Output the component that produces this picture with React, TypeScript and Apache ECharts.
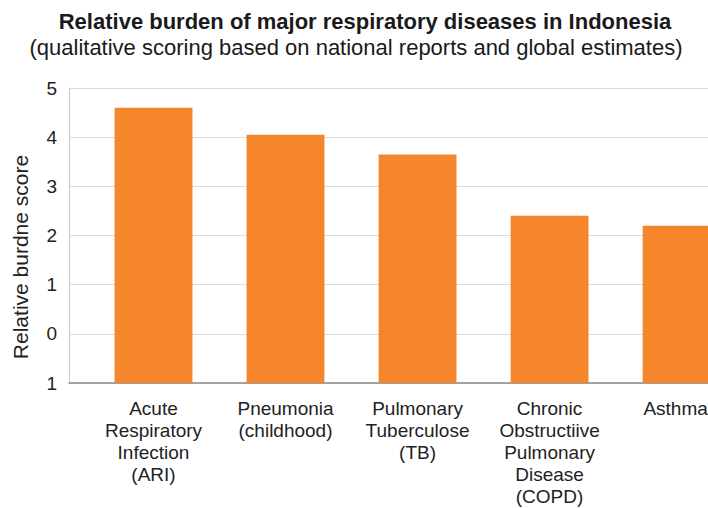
import React, { useEffect, useRef } from "react";
import * as echarts from "echarts";

const categories = [
  "Acute\nRespiratory\nInfection\n(ARI)",
  "Pneumonia\n(childhood)",
  "Pulmonary\nTuberculose\n(TB)",
  "Chronic\nObstructiive\nPulmonary\nDisease\n(COPD)",
  "Asthma",
];
const scores = [4.6, 4.05, 3.65, 2.4, 2.2];
const yTickLabels = ["1", "0", "1", "2", "3", "4", "5"];
const yMin = -1;
const yMax = 5;
const titleText = "Relative burden of major respiratory diseases in Indonesia";
const subtitleText = "(qualitative scoring based on national reports and global estimates)";
const yAxisName = "Relative burdne score";

export default function App() {
  const ref = useRef<HTMLDivElement>(null);
  useEffect(() => {
    document.body.style.margin = "0";
    document.body.style.overflow = "hidden";
    document.documentElement.style.overflow = "hidden";
    const chart = echarts.init(ref.current!, null, { renderer: "svg" });
    const font = "Liberation Sans, Arial, sans-serif";
    chart.setOption({
      animation: false,
      backgroundColor: "#ffffff",
      textStyle: { fontFamily: font },
      grid: {
        left: 69,
        right: 0,
        top: 88,
        bottom: 125,
        containLabel: false,
        outerBoundsMode: "none",
      },
      graphic: [
        {
          type: "text",
          x: 365,
          y: 21,
          style: {
            text: titleText,
            fontFamily: font,
            fontSize: 22,
            fontWeight: "bold",
            fill: "#1a1a1a",
            align: "center",
            verticalAlign: "middle",
          },
        },
        {
          type: "text",
          x: 356,
          y: 47,
          style: {
            text: subtitleText,
            fontFamily: font,
            fontSize: 22,
            fill: "#1a1a1a",
            align: "center",
            verticalAlign: "middle",
          },
        },
        {
          type: "text",
          x: 20,
          y: 257,
          rotation: Math.PI / 2,
          style: {
            text: yAxisName,
            fontFamily: font,
            fontSize: 21,
            fill: "#222",
            align: "center",
            verticalAlign: "middle",
          },
        },
      ],
      xAxis: {
        type: "value",
        min: -0.64,
        max: 4.2,
        axisLine: { show: true, onZero: false, lineStyle: { color: "#8c8c8c", width: 1.5 } },
        axisTick: { show: false },
        splitLine: { show: false },
        axisLabel: {
          customValues: [0, 1, 2, 3, 4],
          formatter: (v: number) => {
            const i = Math.round(v);
            const t = categories[i] ?? "";
            return i === categories.length - 1 ? `{edge|${t}}` : t;
          },
          rich: {
            edge: { fontSize: 19, lineHeight: 22, color: "#222", fontFamily: font, padding: [0, 12, 0, 0] },
          },
          fontSize: 19,
          lineHeight: 22,
          margin: 14,
          color: "#222",
          fontFamily: font,
        },
      },
      yAxis: {
        type: "value",
        min: yMin,
        max: yMax,
        interval: 1,
        axisLine: { show: true, onZero: false, lineStyle: { color: "#c8c8c8", width: 1 } },
        axisTick: { show: false },
        splitLine: { show: true, lineStyle: { color: "#dcdcdc", width: 1 } },
        axisLabel: {
          formatter: (v: number) => yTickLabels[Math.round(v - yMin)] ?? "",
          fontSize: 19,
          margin: 12,
          color: "#222",
          fontFamily: font,
        },
      },
      series: [
        {
          type: "custom",
          clip: false,
          data: scores.map((s, i) => [i, s]),
          renderItem: (params: any, api: any) => {
            const top = api.coord([api.value(0), api.value(1)]);
            const base = api.coord([api.value(0), yMin]);
            const bw = api.size([1, 0])[0] * 0.59;
            return {
              type: "rect",
              shape: { x: top[0] - bw / 2, y: top[1], width: bw, height: base[1] - top[1] },
              style: { fill: "#F5862C" },
            };
          },
        },
      ],
    });
    return () => chart.dispose();
  }, []);
  return <div ref={ref} style={{ width: 708, height: 508 }} />;
}
